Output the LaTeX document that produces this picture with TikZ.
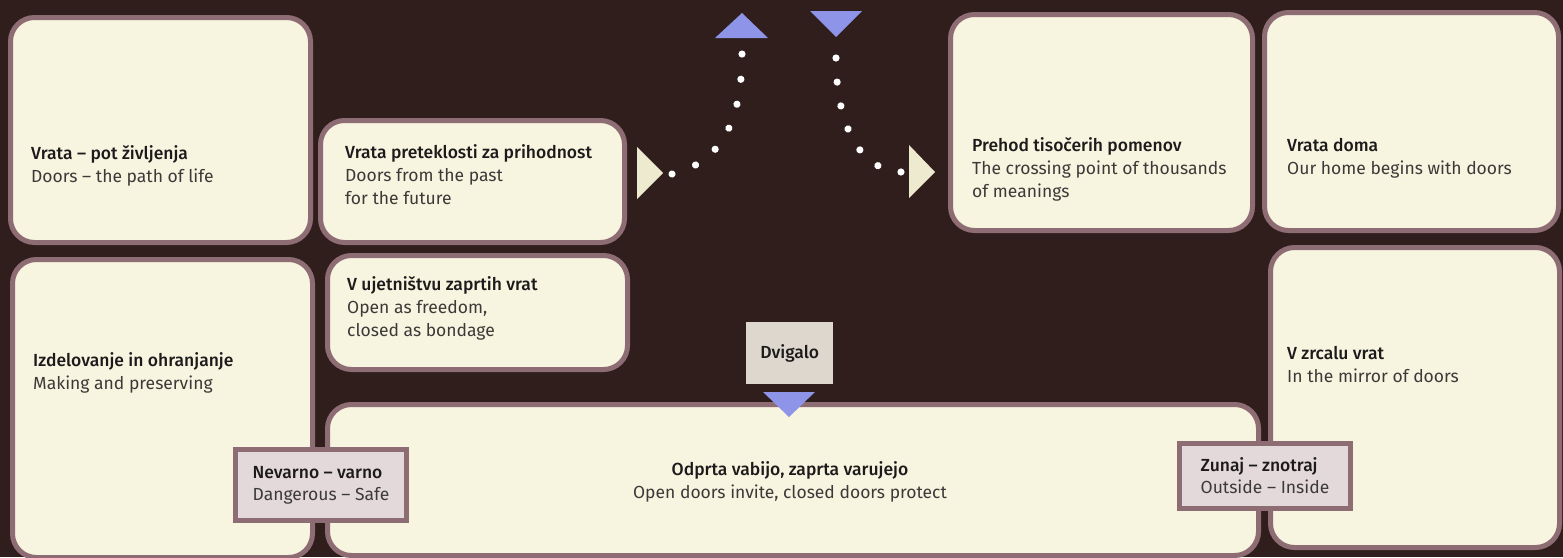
\documentclass[tikz,border=0pt]{standalone}
\usepackage{fontspec}
\setmainfont{Fira Sans}[BoldFont={Fira Sans Medium}]
\usetikzlibrary{decorations.markings}
\definecolor{backdrop}{HTML}{2F1E1B}
\definecolor{paper}{HTML}{F7F4E0}
\definecolor{rim}{HTML}{8E6C73}
\definecolor{tagfill}{HTML}{E3D9DA}
\definecolor{liftfill}{HTML}{DDD7CE}
\definecolor{arrowblue}{HTML}{8E94E8}
\definecolor{arrowcream}{HTML}{EEEAD0}
\definecolor{ink}{HTML}{1C1A1A}
\definecolor{softink}{HTML}{3C3A38}
\newcommand{\entry}[2]{{\bfseries\color{ink}#1}\\#2}

\begin{document}
\begin{tikzpicture}[x=1pt,y=-1pt,
	panel/.style={draw=rim, fill=paper, line width=5pt, rounded corners=24pt, anchor=north west, inner sep=0pt},
	tag/.style={draw=rim, fill=tagfill, line width=5pt, anchor=north west, align=left, inner xsep=13pt, font=\fontsize{17.5}{22}\selectfont, text=softink},
	words/.style={anchor=base west, align=left, inner sep=0pt, font=\fontsize{17.5}{23}\selectfont, text=softink},
	dotline/.style={decoration={markings, mark=between positions 0 and 1 step 0.1666 with {\fill[white] (0,0) circle (3.6pt);}}, decorate}]
	\fill[backdrop] (0,0) rectangle (1563,557);
	\useasboundingbox (0,0) rectangle (1563,557);

	% panels
	\node[panel, minimum width=300pt, minimum height=225pt] (life) at (8,15) {};
	\node[panel, minimum width=304pt, minimum height=122pt] (past) at (318,118) {};
	\node[panel, minimum width=302pt, minimum height=216pt] (meaning) at (948,12) {};
	\node[panel, minimum width=294pt, minimum height=218pt] (home) at (1262,10) {};
	\node[panel, minimum width=300pt, minimum height=298pt] (making) at (10,257) {};
	\node[panel, minimum width=300pt, minimum height=114pt] (bondage) at (325,253) {};
	\node[panel, minimum width=931pt, minimum height=151pt] (invite) at (325,402) {};
	\node[panel, minimum width=289pt, minimum height=300pt] (mirror) at (1268,245) {};

	% texts (placed at the baseline of their last line)
	\node[words] (lifetext) at (31,182) {\entry{Vrata – pot življenja}{Doors – the path of life}};
	\node[words] (pasttext) at (345,204) {\entry{Vrata preteklosti za prihodnost}{Doors from the past\\for the future}};
	\node[words] (meaningtext) at (972,197) {\entry{Prehod tisočerih pomenov}{The crossing point of thousands\\of meanings}};
	\node[words] (hometext) at (1287,174) {\entry{Vrata doma}{Our home begins with doors}};
	\node[words] (makingtext) at (33,389) {\entry{Izdelovanje in ohranjanje}{Making and preserving}};
	\node[words] (bondagetext) at (347,336) {\entry{V ujetništvu zaprtih vrat}{Open as freedom,\\closed as bondage}};
	\node[words, anchor=base, align=center] (invitetext) at (790,498) {\entry{Odprta vabijo, zaprta varujejo}{Open doors invite, closed doors protect}};
	\node[words] (mirrortext) at (1287,382) {\entry{V zrcalu vrat}{In the mirror of doors}};

	% small tags
	\node[tag, minimum width=171pt, minimum height=71pt] (safe) at (233,447) {\entry{Nevarno – varno}{Dangerous – Safe}};
	\node[tag, minimum width=171pt, minimum height=65pt] (inside) at (1177,441) {\entry{Zunaj – znotraj}{Outside – Inside}};
	\node[anchor=north west, fill=liftfill, minimum width=87pt, minimum height=62pt, font=\fontsize{17.5}{22}\selectfont\bfseries, text=ink] (lift) at (746,322) {Dvigalo};

	% arrow heads
	\fill[arrowcream] (637,147) -- (663,173) -- (637,199) -- cycle;
	\fill[arrowcream] (909,145) -- (935,172) -- (909,198) -- cycle;
	\fill[arrowblue] (715,38) -- (742,13) -- (768,38) -- cycle;
	\fill[arrowblue] (810,11) -- (862,11) -- (836,37) -- cycle;
	\fill[arrowblue] (763,392) -- (815,392) -- (789,417) -- cycle;

	% dotted ways
	\coordinate (outpast) at (672,174);
	\coordinate (upgo) at (742,54);
	\coordinate (downgo) at (836,58);
	\coordinate (inmeaning) at (901,172);
	\path[dotline] (outpast) .. controls (722,162) and (742,120) .. (upgo);
	\path[dotline] (downgo) .. controls (836,118) and (856,170) .. (inmeaning);
\end{tikzpicture}
\end{document}
